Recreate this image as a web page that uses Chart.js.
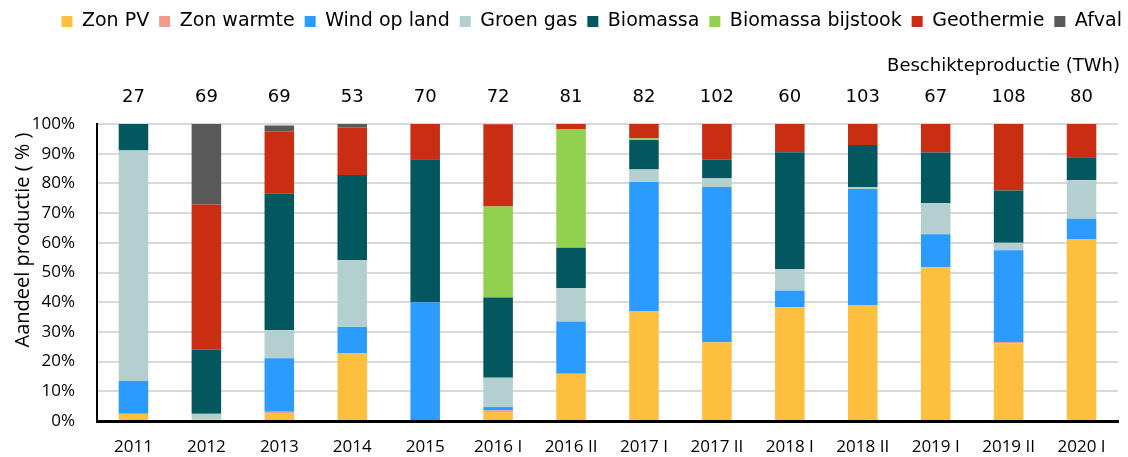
<!DOCTYPE html>
<html>
<head>
<meta charset="utf-8">
<script src="https://cdn.jsdelivr.net/npm/chart.js@4"></script>
<style>
  html, body { margin: 0; padding: 0; background: #fff; }
  #wrap { width: 1128px; height: 457px; position: relative; }
</style>
</head>
<body>
<div id="wrap"><canvas id="chart"></canvas></div>
<script>
// categories and data (share of production, %)
const periods = ["2011", "2012", "2013", "2014", "2015", "2016 I", "2016 II",
  "2017 I", "2017 II", "2018 I", "2018 II", "2019 I", "2019 II", "2020 I"];

const beschikt = [27, 69, 69, 53, 70, 72, 81, 82, 102, 60, 103, 67, 108, 80];

const zonPV =       [2.4, 0.5, 2.5, 22.9, 0, 3.0, 15.9, 37.0, 26.5, 38.3, 38.9, 51.8, 26.1, 61.1];
const zonWarmte =   [0, 0, 0.6, 0, 0, 0.6, 0, 0, 0, 0, 0, 0, 0.5, 0];
const windLand =    [11.1, 0, 18.0, 8.8, 40.0, 1.1, 17.6, 43.5, 52.3, 5.6, 39.2, 11.1, 30.9, 7.0];
const groenGas =    [77.6, 1.9, 9.5, 22.4, 0, 9.9, 11.3, 4.2, 2.9, 7.2, 0.7, 10.5, 2.5, 13.0];
const biomassa =    [8.9, 21.7, 45.9, 28.7, 48.1, 27.0, 13.5, 9.9, 6.4, 39.4, 14.1, 17.0, 17.6, 7.7];
const bijstook =    [0, 0, 0, 0, 0, 30.6, 40.0, 0.6, 0, 0, 0, 0, 0, 0];
const geothermie =  [0, 48.8, 21.1, 16.0, 11.9, 27.7, 1.8, 4.8, 11.9, 9.5, 7.2, 9.6, 22.5, 11.3];
const afval =       [0, 27.1, 1.9, 1.2, 0, 0, 0, 0, 0, 0, 0, 0, 0, 0];

const yTicks = [0, 10, 20, 30, 40, 50, 60, 70, 80, 90, 100];

const series = [
  { label: "Zon PV", data: zonPV, color: "#FDBF3D" },
  { label: "Zon warmte", data: zonWarmte, color: "#F4998B" },
  { label: "Wind op land", data: windLand, color: "#2C9BFF" },
  { label: "Groen gas", data: groenGas, color: "#B4CFCF" },
  { label: "Biomassa", data: biomassa, color: "#03585F" },
  { label: "Biomassa bijstook", data: bijstook, color: "#92D050" },
  { label: "Geothermie", data: geothermie, color: "#C92E12" },
  { label: "Afval", data: afval, color: "#595959" }
];

const extraText = {
  id: "extraText",
  beforeInit(chart) {
    const fit = chart.legend.fit;
    chart.legend.fit = function () {
      fit.bind(chart.legend)();
      this.height = 122;
    };
  },
  beforeDraw(chart) {
    // push the legend to the right edge like the original
    chart.legend.left += 14;
    chart.legend.right += 14;
  },
  afterDraw(chart) {
    const ctx = chart.ctx;
    const x = chart.scales.x;
    ctx.save();
    ctx.fillStyle = "#000";
    ctx.font = '18px "DejaVu Sans"';
    ctx.textAlign = "center";
    ctx.textBaseline = "middle";
    beschikt.forEach(function (v, i) {
      ctx.fillText(String(v), x.getPixelForValue(i), 97);
    });
    ctx.textAlign = "right";
    ctx.fillText("Beschikteproductie (TWh)", 1120, 66);

    ctx.translate(23, 240);
    ctx.rotate(-Math.PI / 2);
    ctx.textAlign = "center";
    ctx.font = '20px "Open Sans"';
    ctx.fillText("Aandeel productie ( % )", 0, 0);
    ctx.restore();
  }
};

const ctx = document.getElementById("chart").getContext("2d");

new Chart(ctx, {
  type: "bar",
  data: {
    labels: periods,
    datasets: series.map(function (s) {
      return {
        label: s.label,
        data: s.data,
        backgroundColor: s.color,
        borderWidth: 0,
        barPercentage: 0.405,
        categoryPercentage: 1
      };
    })
  },
  options: {
    responsive: true,
    maintainAspectRatio: false,
    animation: false,
    layout: { padding: { top: 2, right: 10, left: 0, bottom: 0 } },
    plugins: {
      legend: {
        position: "top",
        align: "end",
        labels: {
          boxWidth: 11,
          boxHeight: 11,
          padding: 10,
          color: "#000",
          font: { family: "DejaVu Sans", size: 19 }
        }
      },
      tooltip: { enabled: false }
    },
    scales: {
      x: {
        stacked: true,
        grid: { display: false, drawTicks: false },
        border: { color: "#000", width: 3 },
        ticks: {
          color: "#000",
          padding: 16,
          maxRotation: 0,
          autoSkip: false,
          font: { family: "Open Sans", size: 17 }
        },
        afterFit(s) { s.height = 36; }
      },
      y: {
        stacked: true,
        min: 0,
        max: 100,
        grid: { color: "#D9D9D9", lineWidth: 2, drawTicks: false },
        border: { color: "#000", width: 2 },
        afterBuildTicks(s) { s.ticks = yTicks.map(function (v) { return { value: v }; }); },
        ticks: {
          color: "#000",
          padding: 22,
          font: { family: "Open Sans", size: 17 },
          callback: function (v) { return v + "%"; }
        },
        afterFit(s) { s.width = 97; }
      }
    }
  },
  plugins: [extraText]
});
</script>
</body>
</html>
